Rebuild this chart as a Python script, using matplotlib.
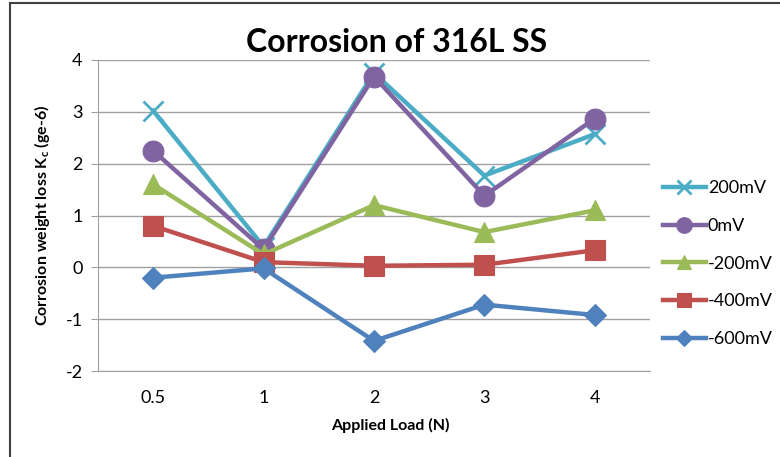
import matplotlib.pyplot as plt
from matplotlib.patches import Rectangle

plt.rcParams['font.family'] = ['Lato', 'DejaVu Sans']
plt.rcParams['axes.unicode_minus'] = False

loads = ['0.5', '1', '2', '3', '4']
series_names = ['200mV', '0mV', '-200mV', '-400mV', '-600mV']
v_200 = [3.02, 0.40, 3.75, 1.77, 2.57]
v_0 = [2.25, 0.35, 3.68, 1.38, 2.87]
v_m200 = [1.60, 0.25, 1.20, 0.68, 1.10]
v_m400 = [0.80, 0.10, 0.03, 0.05, 0.33]
v_m600 = [-0.20, -0.02, -1.42, -0.72, -0.92]

colors = ['#4bacc6', '#8064a2', '#9bbb59', '#c0504d', '#4f81bd']
markers = ['x', 'o', '^', 's', 'D']
msizes = [14, 15, 14, 14, 11]

fig = plt.figure(figsize=(7.8, 4.57), dpi=100)
fig.patches.append(Rectangle((10 / 780, -0.1), 1.2, 1 - 3 / 457 + 0.1,
                             transform=fig.transFigure, fill=False,
                             edgecolor='#404040', linewidth=1.5))
ax = fig.add_axes([98 / 780, 86 / 457, 552 / 780, 311 / 457])

xs = range(len(loads))
all_vals = [v_200, v_0, v_m200, v_m400, v_m600]
for name, vals, c, m, ms in zip(series_names, all_vals, colors, markers, msizes):
    mew = 2 if m == 'x' else 0.8
    ax.plot(xs, vals, color=c, linewidth=3.2, marker=m, markersize=ms,
            markerfacecolor=c, markeredgecolor=c, markeredgewidth=mew, label=name)

ax.set_xlim(-0.5, 4.5)
ax.set_ylim(-2, 4)
ax.set_yticks(range(-2, 5))
ax.set_xticks(list(xs))
ax.set_xticklabels(loads)
ax.grid(axis='y', color='#a0a0a0', linewidth=1)
ax.set_axisbelow(True)
for s in ['top', 'right']:
    ax.spines[s].set_visible(False)
ax.spines['left'].set_color('#a0a0a0')
ax.spines['bottom'].set_color('#a0a0a0')
ax.tick_params(axis='y', length=5, color='#a0a0a0', labelsize=13, pad=6)
ax.tick_params(axis='x', length=0, labelsize=13, pad=14)

ax.set_title('Corrosion of 316L SS', fontsize=23, fontweight='bold', pad=6, x=0.54)
ax.set_xlabel('Applied Load (N)', fontsize=11.5, fontweight='bold', labelpad=8, x=0.53)
ax.set_ylabel('Corrosion weight loss K$_\\mathregular{c}$ (ge-6)', fontsize=11.5,
              fontweight='bold', labelpad=10)

ax.legend(loc='center left', bbox_to_anchor=(1.0, 0.345), frameon=False,
          fontsize=13, handlelength=2.4, labelspacing=1.2, handletextpad=0.1,
          borderaxespad=0.3, markerscale=0.75)

fig.savefig('out.png', dpi=100)
